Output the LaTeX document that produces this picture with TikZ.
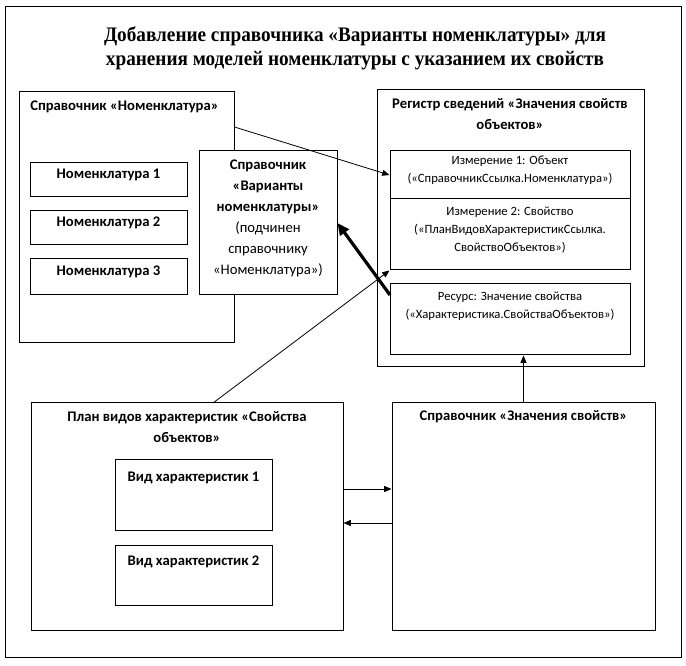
\documentclass[tikz,border=0pt]{standalone}
\usepackage{fontspec}
\setmainfont{Carlito}
\newfontfamily\titlefont{Liberation Serif}
\usetikzlibrary{arrows.meta,fit}
\begin{document}
\begin{tikzpicture}[x=0.75pt,y=-0.75pt,
  frame/.style={draw, line width=0.75pt, inner sep=0pt},
  lbl/.style={font=\fontsize{11}{15.5}\selectfont\bfseries, align=center, inner sep=0pt},
  small/.style={font=\fontsize{9.5}{13.5}\selectfont, align=center, inner sep=0pt},
  conn/.style={draw, line width=0.6pt, -{Triangle[length=5.5pt,width=4.5pt]}},
  thick conn/.style={draw, line width=2.4pt, -{Triangle[length=9pt,width=8pt]}}]
\useasboundingbox (0,0) rectangle (686,666);
% outer frame
\node[frame, fit={(5,7) (681,657)}] (outer) {};
% title
\node[font=\titlefont\fontsize{15.5}{17.5}\selectfont\bfseries, align=center, inner sep=0pt, xscale=0.93] (title) at (355,48.5)
  {Добавление справочника «Варианты номенклатуры» для\\хранения моделей номенклатуры с указанием их свойств};
% Nomenclature catalog
\node[frame, fit={(19,92) (234,343)}] (nom) {};
\node[lbl, anchor=west] (nomlbl) at (30,107) {Справочник «Номенклатура»};
\node[frame, lbl, fit={(30,163) (187,197)}] (nom1) {Номенклатура 1};
\node[frame, lbl, fit={(30,211) (187,245)}] (nom2) {Номенклатура 2};
\node[frame, lbl, fit={(30,259) (187,295)}] (nom3) {Номенклатура 3};
% variants
\node[frame, fill=white, fit={(199,151) (337,295)}] (var) {};
\node[font=\fontsize{11}{15.75}\selectfont, align=center, inner sep=0pt] (vartxt) at (268,218)
  {\textbf{Справочник}\\\textbf{«Варианты}\\\textbf{номенклатуры»}\\(подчинен\\справочнику\\«Номенклатура»)};
% register
\node[frame, fit={(377,90) (644,367)}] (reg) {};
\node[lbl] (reglbl) at (510,114) {Регистр сведений «Значения свойств\\объектов»};
\node[frame, small, fit={(390,151) (630,199)}] (dim1) {Измерение 1: Объект\\(«СправочникСсылка.Номенклатура»)};
\node[frame, small, fit={(390,199) (630,270)}] (dim2) {Измерение 2: Свойство\\(«ПланВидовХарактеристикСсылка.\\СвойствоОбъектов»)};
\node[frame, fit={(390,284) (630,355)}] (res) {};
\node[small] (restxt) at (510,306) {Ресурс: Значение свойства\\(«Характеристика.СвойстваОбъектов»)};
% plan
\node[frame, fit={(31,403) (343,630)}] (plan) {};
\node[lbl] (planlbl) at (187,427) {План видов характеристик «Свойства\\объектов»};
\node[frame, fit={(115,460) (272,531)}] (vid1) {};
\node[lbl] (vid1lbl) at (193.5,478) {Вид характеристик 1};
\node[frame, fit={(115,546) (272,606)}] (vid2) {};
\node[lbl] (vid2lbl) at (193.5,562) {Вид характеристик 2};
% property values
\node[frame, fit={(392,403) (655,630)}] (znach) {};
\node[lbl] (znachlbl) at (523.5,417) {Справочник «Значения свойств»};
% connectors
\coordinate (a1s) at (nom.north east |- 0,127);
\draw[conn] (a1s) -- (dim1.west);
\coordinate (a2s) at (390,295);
\draw[thick conn] (a2s) -- (var.east);
\coordinate (a3s) at (213,403);
\draw[conn] (a3s) -- (dim2.south west);
\draw[conn] (znach.north) -- (znach.north |- res.south);
\coordinate (a5) at (0,489);
\draw[conn] (plan.east |- a5) -- (znach.west |- a5);
\coordinate (a6) at (0,523);
\draw[conn] (znach.west |- a6) -- (plan.east |- a6);
\end{tikzpicture}
\end{document}
